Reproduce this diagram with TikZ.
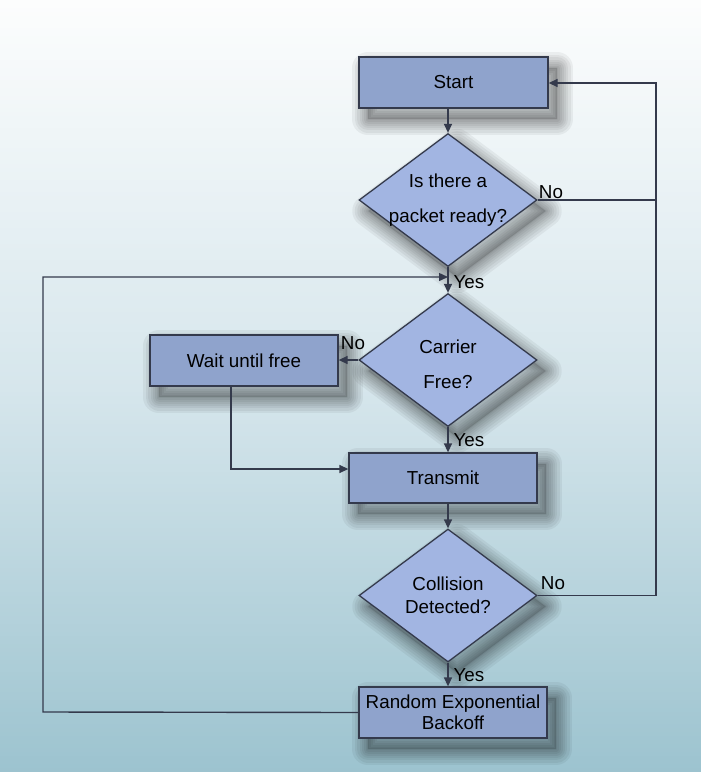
\documentclass[tikz,border=0pt]{standalone}
\usepackage{fontspec}
\setmainfont{Liberation Sans}
\usetikzlibrary{shapes.geometric,arrows.meta}
\definecolor{boxfill}{RGB}{143,163,204}
\definecolor{diafill}{RGB}{162,181,226}
\definecolor{linec}{RGB}{52,58,76}
\definecolor{bgtop}{RGB}{252,253,253}
\definecolor{bgmid}{RGB}{214,230,236}
\definecolor{bgbot}{RGB}{156,195,207}
\tikzset{
  shl/.style={preaction={draw=black, draw opacity=0.05, fill=none, line width=#1, line join=round, transform canvas={xshift=9pt, yshift=-11pt}}},
  sh/.style={shl=32pt, shl=27pt, shl=22pt, shl=17pt, shl=13pt, shl=9pt, shl=5pt, shl=2pt,
     preaction={fill=black, fill opacity=0.14, draw=none, transform canvas={xshift=9pt, yshift=-11pt}}},
  procbox/.style={rectangle, draw=linec, line width=1.3pt, fill=boxfill, sh, inner sep=0pt, font=\fontsize{18.8pt}{21pt}\selectfont, align=center},
  decbox/.style={diamond, draw=linec, line width=1.3pt, fill=diafill, sh, inner sep=0pt, minimum width=178pt, minimum height=133pt},
  conn/.style={draw=linec, line width=1.4pt},
  arr/.style={conn, -{Triangle[length=9pt,width=8pt]}},
  lbl/.style={font=\fontsize{18.8pt}{21pt}\selectfont, inner sep=0pt, text=black}
}
\begin{document}
\begin{tikzpicture}[x=1pt,y=-1pt]
\useasboundingbox (0,0) rectangle (701,772);
\begin{scope}
\clip (0,0) rectangle (701,772);
\foreach \i in {0,...,192}{
  \pgfmathsetmacro{\yy}{\i*4}
  \pgfmathsetmacro{\pa}{min(100,\yy/3.86)}
  \pgfmathsetmacro{\pb}{max(0,(\yy-386)/3.86)}
  \ifdim\yy pt<386pt \colorlet{stripe}{bgmid!\pa!bgtop}\else\colorlet{stripe}{bgbot!\pb!bgmid}\fi
  \fill[stripe] (0,\yy) rectangle (701,\yy+4.6);
}
\end{scope}

\coordinate (rtop) at (656,83);
\coordinate (lt) at (43,277);
\coordinate (lb) at (43,712);
\coordinate (wbend) at (231,469);

\node[procbox, minimum width=189pt, minimum height=51pt] (start) at (453.5,82.5) {Start};
\node[decbox, label={[lbl, align=center, font=\fontsize{18.8pt}{35pt}\selectfont]center:Is there a\\packet ready?}] (ready) at (448,200) {};
\node[decbox, label={[lbl, align=center, font=\fontsize{18.8pt}{35pt}\selectfont, yshift=-4pt]center:Carrier\\Free?}] (carrier) at (448,360) {};
\node[procbox, minimum width=188pt, minimum height=51pt] (wait) at (244,360.5) {Wait until free};
\node[procbox, minimum width=188pt, minimum height=50pt] (transmit) at (443,478) {Transmit};
\node[decbox, label={[lbl, align=center, font=\fontsize{18.8pt}{23pt}\selectfont]center:Collision\\Detected?}] (coll) at (448,595.5) {};
\node[procbox, minimum width=188pt, minimum height=51pt] (backoff) at (453,712.5) {Random Exponential\\Backoff};

% connectors
\draw[arr] (ready.north |- start.south) -- (ready.north);
\draw[conn] (ready.east) -- (ready.east -| rtop);
\draw[arr] (coll.east) -- (coll.east -| rtop) -- (rtop) -- (start.east |- rtop);
\draw[arr] (ready.south) -- (carrier.north);
\draw[arr] (backoff.west) -- (lb) -- (lt) -- (lt -| ready.south);
\draw[arr] (carrier.west) -- (wait.east |- carrier.west);
\draw[arr] (wait.south -| wbend) -- (wbend) -- (wbend -| transmit.west);
\draw[arr] (carrier.south) -- (carrier.south |- transmit.north);
\draw[arr] (coll.north |- transmit.south) -- (coll.north);
\draw[arr] (coll.south) -- (coll.south |- backoff.north);

% labels
\node[lbl] (no1) at (551,192) {No};
\node[lbl] (yes1) at (469,282) {Yes};
\node[lbl] (no2) at (353,343) {No};
\node[lbl] (yes2) at (469,440) {Yes};
\node[lbl] (no3) at (553,583) {No};
\node[lbl] (yes3) at (469,675) {Yes};
\end{tikzpicture}
\end{document}
